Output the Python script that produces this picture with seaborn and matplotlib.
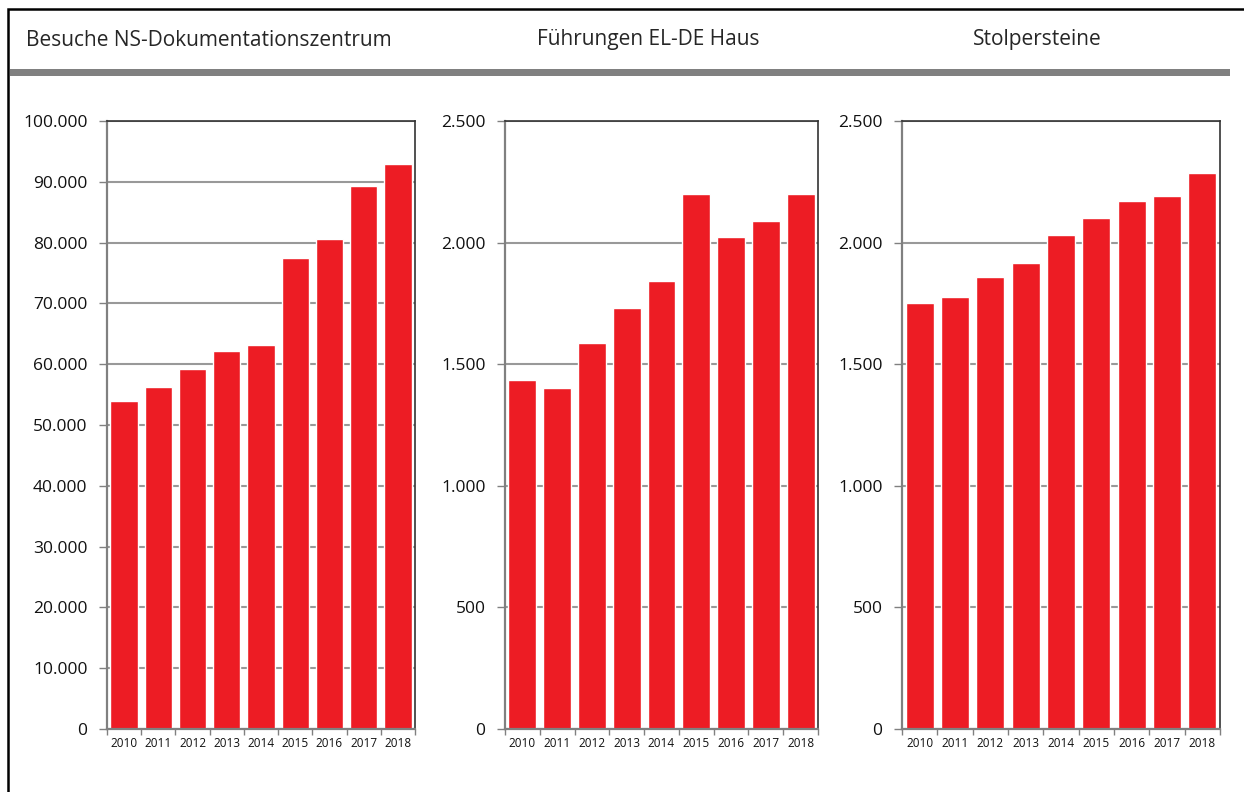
import matplotlib
matplotlib.use("Agg")
import matplotlib.pyplot as plt
import matplotlib.ticker as mticker
from matplotlib.patches import Rectangle
import seaborn as sns
import pandas as pd
import numpy as np

years = ["2010", "2011", "2012", "2013", "2014", "2015", "2016", "2017", "2018"]
besuche = [53900, 56300, 59200, 62200, 63200, 77500, 80600, 89300, 92900]
fuehrungen = [1435, 1402, 1587, 1731, 1842, 2200, 2023, 2089, 2200]
stolpersteine = [1752, 1776, 1859, 1916, 2031, 2101, 2171, 2192, 2286]

titles = ["Besuche NS-Dokumentationszentrum", "Führungen EL-DE Haus", "Stolpersteine"]

sns.set_style("white")
plt.rcParams["font.family"] = ["Open Sans", "DejaVu Sans"]

RED = "#ED1C24"
GREY = "#808080"


def fmt_de(v, pos):
    # German thousands separator
    return f"{int(v):,}".replace(",", ".")


def draw_panel(ax, values, ymax, step):
    df = pd.DataFrame({"Jahr": years, "Wert": values})
    sns.barplot(data=df, x="Jahr", y="Wert", color=RED, width=0.8,
                saturation=1, ax=ax)
    ax.set_xlim(-0.5, len(years) - 0.5)
    ax.set_ylim(0, ymax)
    ax.set_yticks(np.arange(0, ymax + 1, step))
    ax.yaxis.set_major_formatter(mticker.FuncFormatter(fmt_de))
    ax.set_xlabel("")
    ax.set_ylabel("")
    ax.grid(axis="y", color="#999999", linewidth=1.5)
    ax.set_axisbelow(True)
    for side in ["left", "bottom"]:
        ax.spines[side].set_color(GREY)
        ax.spines[side].set_linewidth(1.6)
    for side in ["right", "top"]:
        ax.spines[side].set_color("#333333")
        ax.spines[side].set_linewidth(1.2)
    ax.tick_params(axis="y", which="major", left=True, length=6, width=1,
                   color=GREY, labelsize=12.5, pad=8, labelcolor="#111111")
    # x ticks between categories
    ax.xaxis.set_minor_locator(mticker.FixedLocator(np.arange(-0.5, len(years), 1)))
    ax.tick_params(axis="x", which="major", length=0, labelsize=8.5, pad=6,
                   labelcolor="#111111")
    ax.tick_params(axis="x", which="minor", bottom=True, length=4, width=1,
                   color=GREY)


fig = plt.figure(figsize=(12.44, 7.92), dpi=100)

W, H = 1244, 792
boxes = [(107, 415), (505, 818), (902, 1220)]
series = [(besuche, 100000, 10000), (fuehrungen, 2500, 500), (stolpersteine, 2500, 500)]

for (x0, x1), (vals, ymax, step) in zip(boxes, series):
    ax = fig.add_axes([x0 / W, 1 - 729 / H, (x1 - x0) / W, (729 - 121) / H])
    draw_panel(ax, vals, ymax, step)

# outer frame (right and bottom edges lie outside the picture)
fig.patches.append(Rectangle((8 / W, -0.05), 1.1, 1 - 9 / H + 0.05,
                             transform=fig.transFigure, fill=False,
                             edgecolor="black", linewidth=1.8))
# grey header rule
fig.patches.append(Rectangle((10 / W, 1 - 76 / H), (1230 - 10) / W, 7 / H,
                             transform=fig.transFigure, facecolor=GREY,
                             edgecolor="none"))

fig.text(26 / W, 1 - 40 / H, titles[0], fontsize=15, va="center", ha="left")
fig.text(648 / W, 1 - 40 / H, titles[1], fontsize=15, va="center", ha="center")
fig.text(1037 / W, 1 - 40 / H, titles[2], fontsize=15, va="center", ha="center")

fig.savefig("out.png", dpi=100)
